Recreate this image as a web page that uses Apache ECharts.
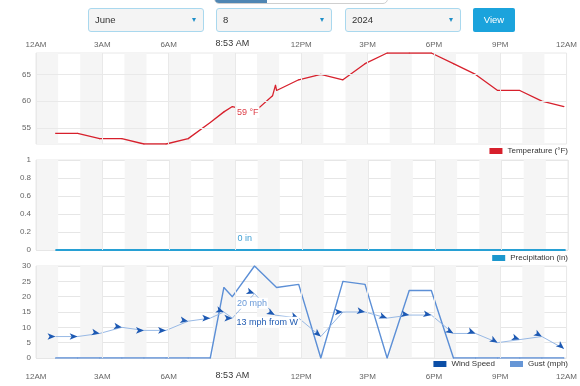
<!DOCTYPE html>
<html><head><meta charset="utf-8">
<script src="https://cdn.jsdelivr.net/npm/echarts@6/dist/echarts.min.js"></script>
<style>
body{margin:0;background:#fff;font-family:'Liberation Sans',Arial,sans-serif;}
#wrap{position:relative;width:580px;height:386px;overflow:hidden;}
#chart{position:absolute;left:0;top:0;width:580px;height:386px;}
.sel{position:absolute;top:8px;height:22px;width:114px;background:#f4f4f4;border:1px solid #a9d8ee;border-radius:3px;font-size:9.5px;color:#333;line-height:22px;}
.sel span{position:absolute;left:6px;}
.sel i{position:absolute;right:7px;top:9px;width:0;height:0;border-left:2.5px solid transparent;border-right:2.5px solid transparent;border-top:4px solid #1f8fc8;}
.btn{position:absolute;left:473px;top:8px;width:42px;height:24px;background:#1ba3dc;border-radius:2px;color:#fff;font-size:9.5px;line-height:24px;text-align:center;}
.tabs{position:absolute;left:214px;top:-20px;width:172px;height:22px;border:1px solid #cfcfcf;border-radius:5px;overflow:hidden;background:#fff;}
.tabs div{width:52px;height:100%;background:#4f86b3;}
</style></head>
<body>
<div id="wrap">
<div id="chart"></div>
<div class="tabs"><div></div></div>
<div class="sel" style="left:88px"><span>June</span><i></i></div>
<div class="sel" style="left:216px"><span>8</span><i></i></div>
<div class="sel" style="left:345px"><span>2024</span><i></i></div>
<div class="btn">View</div>
</div>
<script>
const currentTime = '08:53';
const currentLabel = '8:53 AM';
const xTickHours = [0, 3, 6, 9, 12, 15, 18, 21, 24];
const xTickLabels = ['12AM','3AM','6AM','','12PM','3PM','6PM','9PM','12AM'];
const tempTicks = [55, 60, 65];

const tempTimes = ['00:53','01:53','02:53','03:53','04:53','05:53','06:53','07:53','08:30','08:53','09:53','10:42','10:50','10:53','11:53','12:53','13:53','14:53','15:53','16:53','17:53','18:53','19:53','20:53','21:53','22:53','23:53'];
const tempValues = [54,54,53,53,52,52,53,56,58,59,58,61,63,62,64,65,64,67,69,69,69,67,65,62,62,60,59];

const precipTimes = ['00:53','01:53','02:53','03:53','04:53','05:53','06:53','07:53','08:53','09:53','10:53','11:53','12:53','13:53','14:53','15:53','16:53','17:53','18:53','19:53','20:53','21:53','22:53','23:53'];
const precipValues = [0,0,0,0,0,0,0,0,0,0,0,0,0,0,0,0,0,0,0,0,0,0,0,0];

const windTimes = ['00:53','01:53','02:53','03:53','04:53','05:53','06:53','07:53','08:30','08:53','09:53','10:48','11:53','12:53','13:53','14:53','15:53','16:53','17:53','18:53','19:53','20:53','21:53','22:53','23:53'];
const windValues = [7,7,8,10,9,9,12,13,15,13,21,14,13,7,15,15,13,14,14,8,8,5,6,7,3];
const windDirs = [270,270,280,280,270,270,280,270,290,270,290,300,290,310,270,280,290,280,280,300,290,300,290,300,310];

const gustTimes = ['00:53','01:53','02:53','03:53','04:53','05:53','06:53','07:53','08:30','08:53','09:53','10:53','11:53','12:53','13:53','14:53','15:53','16:53','17:53','18:53','19:53','20:53','21:53','22:53','23:53'];
const gustValues = [0,0,0,0,0,0,0,0,23,20,30,23,24,0,25,24,0,22,22,0,0,0,0,0,0];

const FONT = "'Liberation Sans', Arial, sans-serif";
function toH(t){ const p = t.split(':').map(Number); return p[0] + p[1]/60; }
const compass = ['N','NNE','NE','ENE','E','ESE','SE','SSE','S','SSW','SW','WSW','W','WNW','NW','NNW'];
function dirName(d){ return compass[Math.round(d/22.5) % 16]; }
const curH = toH(currentTime);

const C_TEMP = '#d7202c', C_PREC = '#1b97cd', C_WIND = '#0b4ea6', C_GUST = '#6696d6';

const grids = [
  {left:36, top:53, width:532, height:91},
  {left:36, top:160, width:532, height:90},
  {left:36, top:266, width:532, height:92}
].map(g => Object.assign(g, {show:true, borderColor:'#e8e8e8', borderWidth:1, backgroundColor:'transparent'}));

const xAxes = [0,1,2].map(i => ({
  type:'value', gridIndex:i, min:0, max:24, interval:1,
  position: i === 0 ? 'top' : 'bottom',
  axisLine:{show:false}, axisTick:{show:false},
  axisLabel:{show: i !== 1, color:'#666', fontSize:8, fontFamily:FONT, margin: i === 0 ? 4 : 15,
    formatter: v => { const k = xTickHours.indexOf(v); return k >= 0 ? xTickLabels[k] : ''; }},
  splitLine:{show:false},
  splitArea:{show:true, areaStyle:{color:['#f5f5f5','rgba(255,255,255,0)']}}
}));

const yBase = {type:'value', axisLine:{show:false}, axisTick:{show:false}};
const yAxes = [
  Object.assign({}, yBase, {gridIndex:0, min:52, max:69, interval:1,
    axisLabel:{color:'#666', fontSize:8, fontFamily:FONT, margin:5, formatter: v => (tempTicks.indexOf(v) >= 0 ? String(v) : '')},
    splitLine:{show:false}}),
  Object.assign({}, yBase, {gridIndex:1, min:0, max:1, interval:0.2,
    axisLabel:{color:'#666', fontSize:8, fontFamily:FONT, margin:5, formatter: v => String(+v.toFixed(1))},
    splitLine:{lineStyle:{color:'#e6e6e6'}}}),
  Object.assign({}, yBase, {gridIndex:2, min:0, max:30, interval:5,
    axisLabel:{color:'#666', fontSize:8, fontFamily:FONT, margin:5},
    splitLine:{lineStyle:{color:'#e6e6e6'}}})
];

function lbl(color, offset, formatter){
  return {show:true, position:'right', distance:3, offset:offset, color:color, fontSize:9, fontFamily:FONT,
    backgroundColor:'#fff', padding:[1,1], formatter:formatter};
}
function gridMarks(extraY){
  const d = xTickHours.map(h => ({xAxis:h}));
  return {silent:true, symbol:['none','none'], label:{show:false},
    lineStyle:{color:'#e9e9e9', type:'solid', width:1},
    data: d.concat((extraY || []).map(v => ({yAxis:v})))};
}

const tempData = tempTimes.map((t,i) => {
  const d = {value:[toH(t), tempValues[i]]};
  if (t === currentTime) d.label = lbl('#dd3b45', [0,6], p => p.value[1] + ' °F');
  return d;
});
const precipData = precipTimes.map((t,i) => {
  const d = {value:[toH(t), precipValues[i]]};
  if (t === currentTime) d.label = lbl('#3f9fd4', [0,-11], p => p.value[1] + ' in');
  return d;
});
const gustData = gustTimes.map((t,i) => {
  const d = {value:[toH(t), gustValues[i]]};
  if (t === currentTime) d.label = lbl('#6a9ad8', [0,6.5], p => p.value[1] + ' mph');
  return d;
});
const windData = windTimes.map((t,i) => {
  const d = {value:[toH(t), windValues[i]], symbolRotate: -(windDirs[i] + 180)};
  if (t === currentTime) d.label = lbl('#215cb3', [0,4], p => p.value[1] + ' mph from ' + dirName(windDirs[i]));
  return d;
});

const legendBase = {right:12, orient:'horizontal', itemWidth:13, itemHeight:6, icon:'rect', itemGap:15, padding:0,
  selectedMode:false, textStyle:{color:'#333', fontSize:8, fontFamily:FONT}};

const chart = echarts.init(document.getElementById('chart'), null, {renderer:'canvas'});
chart.setOption({
  animation:false,
  textStyle:{fontFamily:FONT},
  grid: grids,
  xAxis: xAxes,
  yAxis: yAxes,
  legend: [
    Object.assign({}, legendBase, {top:147, data:[{name:'Temperature (°F)', itemStyle:{color:C_TEMP}}]}),
    Object.assign({}, legendBase, {top:254, data:[{name:'Precipitation (in)', itemStyle:{color:C_PREC}}]}),
    Object.assign({}, legendBase, {top:360, data:[{name:'Wind Speed', itemStyle:{color:C_WIND}}, {name:'Gust (mph)', itemStyle:{color:C_GUST}}]})
  ],
  series: [
    {name:'Temperature (°F)', type:'line', xAxisIndex:0, yAxisIndex:0, data:tempData,
      symbol:'circle', symbolSize:1, showSymbol:true, showAllSymbol:true,
      lineStyle:{color:C_TEMP, width:1.3}, itemStyle:{color:C_TEMP}, label:{show:false},
      markLine: gridMarks(tempTicks)},
    {name:'Precipitation (in)', type:'line', xAxisIndex:1, yAxisIndex:1, data:precipData,
      symbol:'circle', symbolSize:1, showSymbol:true, showAllSymbol:true,
      lineStyle:{color:'#27a0d4', width:2}, itemStyle:{color:'#27a0d4'}, label:{show:false},
      markLine: gridMarks()},
    {name:'Gust (mph)', type:'line', xAxisIndex:2, yAxisIndex:2, data:gustData,
      symbol:'circle', symbolSize:1, showSymbol:true, showAllSymbol:true,
      lineStyle:{color:'#5c8fd6', width:1.4}, itemStyle:{color:'#5c8fd6'}, label:{show:false},
      markLine: gridMarks()},
    {name:'Wind Speed', type:'line', xAxisIndex:2, yAxisIndex:2, data:windData,
      symbol:'arrow', symbolSize:[5,8], showSymbol:true, showAllSymbol:true,
      lineStyle:{color:'#8cb1e2', width:0.9}, itemStyle:{color:'#1d59b3'}, label:{show:false}}
  ]
});

const cx = chart.convertToPixel({xAxisIndex:0}, curH);
chart.setOption({
  graphic: [
    {type:'text', x:cx, y:43.5, z:100, style:{text:currentLabel, font:'9px ' + FONT, fill:'#333', align:'center', verticalAlign:'middle'}},
    {type:'text', x:cx, y:375.5, z:100, style:{text:currentLabel, font:'9px ' + FONT, fill:'#333', align:'center', verticalAlign:'middle'}}
  ]
});
</script>
</body></html>
